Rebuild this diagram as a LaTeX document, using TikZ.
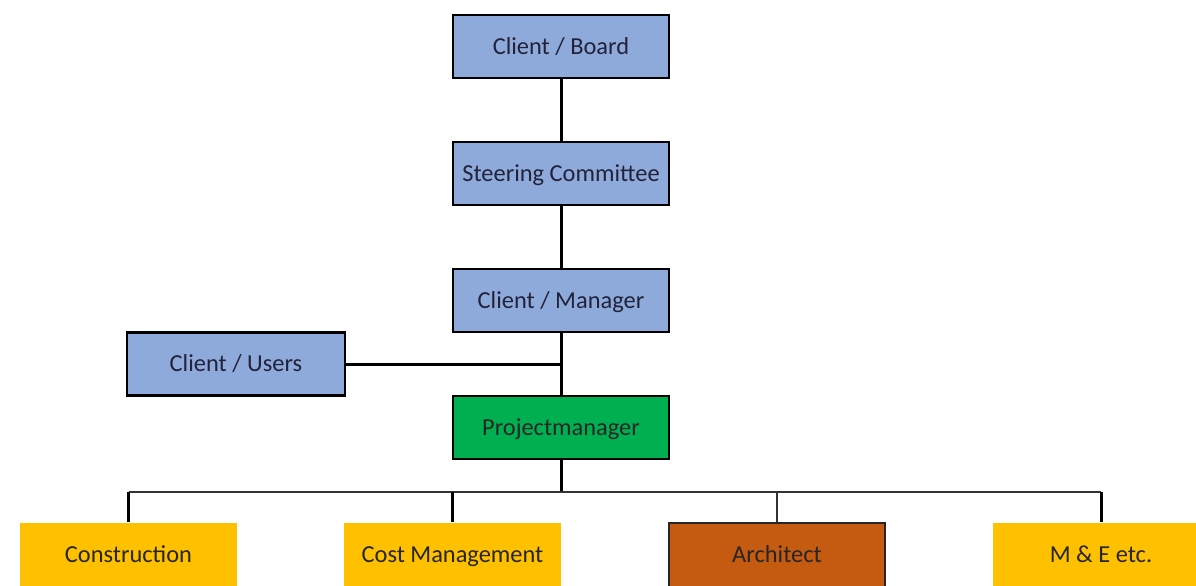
\documentclass[tikz,border=0pt]{standalone}
\usepackage{fontspec}
\setmainfont{Carlito}
\definecolor{boxblue}{HTML}{8EAADB}
\definecolor{pmgreen}{HTML}{00B050}
\definecolor{gold}{HTML}{FFC000}
\definecolor{archbrown}{HTML}{C55A11}
\definecolor{navytext}{HTML}{22223A}
\begin{document}
\begin{tikzpicture}[x=0.5pt,y=-0.5pt,
  box/.style={line width=1.3pt, minimum width=108pt, minimum height=31.5pt, inner sep=0pt,
              text height=8.6pt, text depth=0.8pt,
              font=\fontsize{12.2}{14}\selectfont},
  bluebox/.style={box, draw=black, fill=boxblue, text=navytext},
  greenbox/.style={box, draw=black, fill=pmgreen, text=black!85},
  goldbox/.style={box, draw=none, fill=gold, minimum width=108.5pt, minimum height=32pt, text=black!85},
  archbox/.style={box, draw=black!85, line width=1.1pt, fill=archbrown, minimum height=32pt, text=black!85},
  conn/.style={draw=black, line width=1.5pt},
  thinconn/.style={draw=black!80, line width=0.8pt}]
\useasboundingbox (0,0) rectangle (1196,585);
\clip (0,0) rectangle (1196,585);

\node[bluebox] (board) at (561,46.5) {Client / Board};
\node[bluebox] (steer) at (561,173.5) {Steering Committee};
\node[bluebox] (mgr) at (561,300.5) {Client / Manager};
\node[bluebox, minimum width=109pt] (users) at (236,364) {Client / Users};
\node[greenbox] (pm) at (561,427.5) {Projectmanager};

\node[goldbox] (con) at (128.5,555) {Construction};
\node[goldbox] (cost) at (452.5,555) {Cost Management};
\node[archbox] (arch) at (777,555) {Architect};
\node[goldbox] (me) at (1101,555) {M \& E etc.};

\coordinate (bus) at (561,492);
\coordinate (join) at (561,364);

\draw[conn] (board) -- (steer);
\draw[conn] (steer) -- (mgr);
\draw[conn] (mgr) -- (pm);
\draw[conn] (users.east) -- (join);
\draw[conn] (pm) -- (bus);
\draw[thinconn] (con.north |- bus) -- (me.north |- bus);
\draw[conn] (con.north |- bus) -- (con.north);
\draw[conn] (cost.north |- bus) -- (cost.north);
\draw[thinconn] (arch.north |- bus) -- (arch.north);
\draw[conn] (me.north |- bus) -- (me.north);
\end{tikzpicture}
\end{document}
